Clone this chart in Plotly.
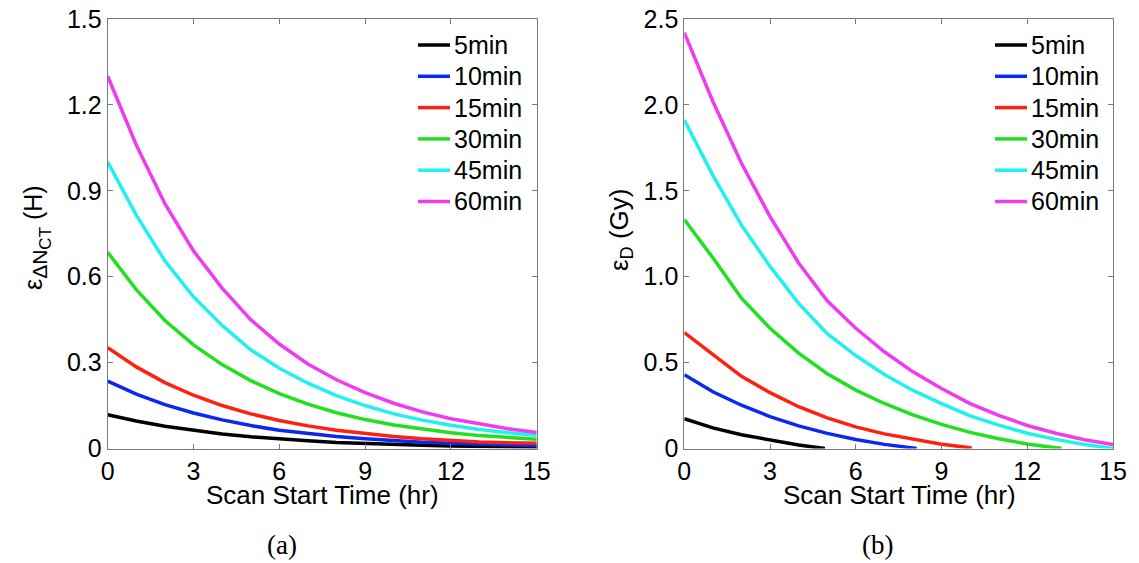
import plotly.graph_objects as go

# scan start time (hr)
hours = list(range(16))
scan_lengths = ["5min", "10min", "15min", "30min", "45min", "60min"]
colors = ["#000000", "#0a28f0", "#ff2010", "#20e020", "#20f0f0", "#f03cf0"]

# (a) error in delta N_CT (H)
err_n_5 = [0.118, 0.096, 0.078, 0.063, 0.051, 0.041, 0.033, 0.027, 0.021, 0.017, 0.014, 0.011, 0.009, 0.007, 0.006, 0.005]
err_n_10 = [0.235, 0.190, 0.153, 0.124, 0.100, 0.080, 0.064, 0.052, 0.042, 0.034, 0.027, 0.022, 0.018, 0.015, 0.012, 0.010]
err_n_15 = [0.352, 0.285, 0.230, 0.186, 0.150, 0.121, 0.098, 0.079, 0.064, 0.052, 0.042, 0.034, 0.028, 0.023, 0.020, 0.018]
err_n_30 = [0.685, 0.555, 0.447, 0.362, 0.293, 0.237, 0.192, 0.155, 0.125, 0.101, 0.082, 0.067, 0.055, 0.045, 0.038, 0.032]
err_n_45 = [1.000, 0.815, 0.655, 0.530, 0.430, 0.345, 0.280, 0.228, 0.185, 0.150, 0.121, 0.099, 0.081, 0.066, 0.055, 0.046]
err_n_60 = [1.300, 1.060, 0.855, 0.690, 0.560, 0.450, 0.365, 0.295, 0.240, 0.195, 0.158, 0.128, 0.104, 0.085, 0.069, 0.056]

# (b) error in dose (Gy), each curve stops where it hits zero
hours_d_5 = [0, 1, 2, 3, 4, 4.92]
err_d_5 = [0.173, 0.120, 0.080, 0.048, 0.020, 0.0]
hours_d_10 = [0, 1, 2, 3, 4, 5, 6, 7, 8, 8.13]
err_d_10 = [0.430, 0.330, 0.252, 0.186, 0.132, 0.088, 0.052, 0.024, 0.003, 0.0]
hours_d_15 = [0, 1, 2, 3, 4, 5, 6, 7, 8, 9, 10, 10.05]
err_d_15 = [0.675, 0.545, 0.420, 0.325, 0.243, 0.178, 0.126, 0.085, 0.053, 0.025, 0.004, 0.0]
hours_d_30 = [0, 1, 2, 3, 4, 5, 6, 7, 8, 9, 10, 11, 12, 13, 13.2]
err_d_30 = [1.333, 1.110, 0.875, 0.700, 0.555, 0.435, 0.340, 0.262, 0.196, 0.140, 0.094, 0.057, 0.026, 0.004, 0.0]
err_d_45 = [1.912, 1.590, 1.300, 1.060, 0.845, 0.668, 0.541, 0.431, 0.338, 0.261, 0.190, 0.136, 0.089, 0.053, 0.023, 0.0]
err_d_60 = [2.420, 2.020, 1.660, 1.350, 1.080, 0.860, 0.700, 0.563, 0.446, 0.349, 0.261, 0.193, 0.134, 0.089, 0.051, 0.023]

left_x = [hours] * 6
left_y = [err_n_5, err_n_10, err_n_15, err_n_30, err_n_45, err_n_60]
right_x = [hours_d_5, hours_d_10, hours_d_15, hours_d_30, hours, hours]
right_y = [err_d_5, err_d_10, err_d_15, err_d_30, err_d_45, err_d_60]

W, H = 1139, 563
font = "Liberation Sans, Arial, Helvetica, sans-serif"
serif = "Liberation Serif, DejaVu Serif, serif"

fig = go.Figure()
for name, c, xs, ys in zip(scan_lengths, colors, left_x, left_y):
    fig.add_trace(go.Scatter(x=xs, y=ys, name=name, mode="lines", showlegend=False,
                             line=dict(color=c, width=3.5), xaxis="x", yaxis="y"))
for name, c, xs, ys in zip(scan_lengths, colors, right_x, right_y):
    fig.add_trace(go.Scatter(x=xs, y=ys, name=name, mode="lines", showlegend=False,
                             line=dict(color=c, width=3.5), xaxis="x2", yaxis="y2"))

axis_style = dict(showgrid=False, zeroline=False, showline=True, linecolor="#7a7a7a",
                  linewidth=1, mirror="ticks", ticks="inside", ticklen=5,
                  tickcolor="#7a7a7a", automargin=False,
                  tickfont=dict(family=font, size=25, color="black"))


def px(x):
    return x / W


def py(y):
    return 1 - y / H


# plot boxes in pixels: left 107.7-536.7, right 684.3-1113, top 19, bottom 448.5
fig.update_layout(
    width=W, height=H, margin=dict(l=0, r=0, t=0, b=0, autoexpand=False),
    paper_bgcolor="white", plot_bgcolor="white", showlegend=False,
    font=dict(family=font, size=25, color="black"),
    xaxis=dict(axis_style, domain=[px(107.7), px(536.7)], range=[0, 15],
               tickvals=[0, 3, 6, 9, 12, 15], anchor="y"),
    yaxis=dict(axis_style, domain=[py(448.5), py(19)], range=[0, 1.5],
               tickvals=[0, 0.3, 0.6, 0.9, 1.2, 1.5],
               ticktext=["0", "0.3", "0.6", "0.9", "1.2", "1.5"], anchor="x"),
    xaxis2=dict(axis_style, domain=[px(684.3), px(1113)], range=[0, 15],
                tickvals=[0, 3, 6, 9, 12, 15], anchor="y2"),
    yaxis2=dict(axis_style, domain=[py(448.5), py(19)], range=[0, 2.5],
                tickvals=[0, 0.5, 1.0, 1.5, 2.0, 2.5],
                ticktext=["0", "0.5", "1.0", "1.5", "2.0", "2.5"], anchor="x2"),
)

# legends drawn by hand so the row spacing matches the MATLAB legend
for x0 in (418, 995):
    for i, (name, c) in enumerate(zip(scan_lengths, colors)):
        yy = 45 + 31.3 * i
        fig.add_shape(type="line", xref="paper", yref="paper",
                      x0=px(x0), x1=px(x0 + 32), y0=py(yy), y1=py(yy),
                      line=dict(color=c, width=3.5))
        fig.add_annotation(text=name, xref="paper", yref="paper", showarrow=False,
                           x=px(x0 + 34), y=py(yy), xanchor="left", yanchor="middle",
                           font=dict(size=25))

ylab_a = ("ε<sub><span style='font-size:21px'>ΔN</span>"
          "<sub><span style='font-size:17px'>CT</span></sub></sub> (H)")
annotations = [
    dict(text="Scan Start Time (hr)", x=px(322), y=py(495), font=dict(size=26)),
    dict(text="Scan Start Time (hr)", x=px(899), y=py(495), font=dict(size=26)),
    dict(text=ylab_a, x=px(37), y=py(238), textangle=-90, font=dict(size=25)),
    dict(text="ε<sub>D</sub> (Gy)", x=px(620), y=py(230),
         textangle=-90, font=dict(size=26)),
    dict(text="(a)", x=px(282), y=py(545), font=dict(family=serif, size=27)),
    dict(text="(b)", x=px(877), y=py(545), font=dict(family=serif, size=27)),
]
for a in annotations:
    fig.add_annotation(xref="paper", yref="paper", showarrow=False,
                       xanchor="center", yanchor="middle", **a)

fig.write_html("out.html", config={"displayModeBar": False},
               post_script="document.body.style.margin='0';")
